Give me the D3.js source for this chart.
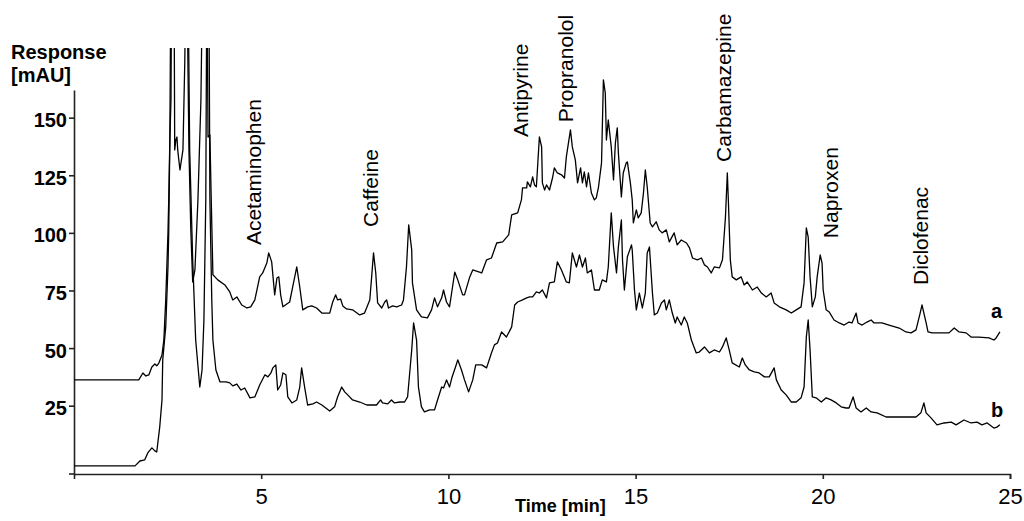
<!DOCTYPE html>
<html><head><meta charset="utf-8">
<script src="https://cdn.jsdelivr.net/npm/d3@7"></script>
<style>body{margin:0;background:#fff}svg{display:block}text{font-family:"Liberation Sans",Arial,sans-serif;fill:#000}</style>
</head><body><svg id="c" width="1024" height="521"></svg>
<script>
// Chromatogram a (upper): [time min, response mAU]
const traceA = [[0,36.2],[1.73,36.2],[1.84,39.2],[1.92,37.9],[2.00,38.4],[2.08,41.8],[2.16,43.1],[2.21,42.3],[2.27,43.6],[2.35,47.0],[2.40,53.5],[2.45,70.9],[2.51,100.0],[2.53,114.3],[2.56,140.3],[2.59,157.7],[2.61,220],[2.67,220],[2.69,136.0],[2.72,140.3],[2.75,141.6],[2.77,136.0],[2.83,127.3],[2.91,136.0],[2.96,175],[2.99,220],[3.01,220],[3.07,136.0],[3.12,101.3],[3.17,78.7],[3.23,83.9],[3.31,114.3],[3.39,157.7],[3.44,220],[3.55,220],[3.58,141.6],[3.63,142.5],[3.66,118.6],[3.71,81.8],[3.84,79.6],[4.03,77.4],[4.16,74.4],[4.24,70.9],[4.35,72.2],[4.48,68.7],[4.62,67.4],[4.72,67.9],[4.83,70.9],[4.96,80.9],[5.04,82.6],[5.15,86.9],[5.20,91.3],[5.28,87.4],[5.36,73.1],[5.42,80.4],[5.47,80.9],[5.52,73.1],[5.58,67.9],[5.76,70.0],[5.84,76.5],[5.95,85.2],[6.03,76.5],[6.11,66.6],[6.24,67.9],[6.35,68.3],[6.48,67.4],[6.62,65.2],[6.83,65.2],[6.91,70.0],[6.99,73.1],[7.04,70.9],[7.12,71.3],[7.18,68.3],[7.28,67.0],[7.44,66.6],[7.63,64.4],[7.76,65.2],[7.90,70.9],[7.95,80.9],[8.00,91.3],[8.06,82.6],[8.11,69.6],[8.22,67.4],[8.30,70.0],[8.35,70.9],[8.40,67.4],[8.51,68.3],[8.62,67.9],[8.75,68.7],[8.80,70.9],[8.88,85.2],[8.94,103.5],[9.02,92.6],[9.04,78.3],[9.15,66.6],[9.28,63.5],[9.44,63.1],[9.55,66.6],[9.63,71.8],[9.71,67.9],[9.82,71.8],[9.87,75.2],[9.95,70.0],[10.03,67.9],[10.11,76.5],[10.17,83.0],[10.25,79.6],[10.38,73.1],[10.43,73.1],[10.57,80.9],[10.65,83.9],[10.89,82.6],[11.02,88.3],[11.15,89.1],[11.29,95.6],[11.45,96.1],[11.61,99.1],[11.69,107.8],[11.85,108.7],[11.95,114.3],[11.98,119.5],[12.09,119.5],[12.11,122.1],[12.19,120.0],[12.25,124.3],[12.30,120.8],[12.35,120.0],[12.43,141.6],[12.49,137.3],[12.51,121.7],[12.57,118.6],[12.62,120.8],[12.70,118.6],[12.78,123.8],[12.83,128.2],[12.91,126.0],[13.02,125.2],[13.10,123.8],[13.15,133.0],[13.26,144.7],[13.31,137.3],[13.39,131.7],[13.45,121.7],[13.53,128.2],[13.58,121.7],[13.63,126.5],[13.69,120.0],[13.74,126.0],[13.82,117.3],[13.90,114.3],[13.95,115.2],[14.01,120.0],[14.09,130.4],[14.14,166.4],[14.19,160.7],[14.22,140.3],[14.27,149.0],[14.35,137.3],[14.41,123.0],[14.46,139.0],[14.51,145.6],[14.54,134.7],[14.62,115.6],[14.67,126.0],[14.75,130.4],[14.78,130.8],[14.86,121.7],[14.91,114.3],[14.94,104.3],[15.02,110.0],[15.07,106.5],[15.15,108.7],[15.21,117.3],[15.26,127.3],[15.31,120.0],[15.39,104.3],[15.45,102.6],[15.55,104.8],[15.63,101.3],[15.71,100.0],[15.82,101.3],[15.90,96.1],[16.03,100.0],[16.11,94.8],[16.22,96.9],[16.36,95.6],[16.44,93.5],[16.52,89.1],[16.65,88.3],[16.76,89.1],[16.84,86.1],[16.92,85.2],[17.02,82.6],[17.10,85.2],[17.24,84.8],[17.32,88.3],[17.40,106.9],[17.45,126.0],[17.48,113.0],[17.53,88.3],[17.58,80.9],[17.69,79.6],[17.82,80.9],[17.90,77.4],[17.98,78.7],[18.12,75.2],[18.25,76.5],[18.36,73.9],[18.49,72.2],[18.62,73.9],[18.70,69.6],[18.84,67.9],[19.02,66.6],[19.16,65.2],[19.29,66.6],[19.42,67.9],[19.50,78.3],[19.56,102.2],[19.61,98.2],[19.66,80.9],[19.72,67.9],[19.80,72.2],[19.85,80.9],[19.93,90.4],[19.98,86.9],[20.01,75.2],[20.09,66.6],[20.17,65.7],[20.30,62.2],[20.44,60.9],[20.57,60.0],[20.70,61.3],[20.78,60.9],[20.89,65.2],[20.94,60.9],[21.05,60.0],[21.18,61.3],[21.29,62.2],[21.37,60.9],[21.58,60.9],[21.77,60.0],[22.04,58.7],[22.22,57.0],[22.36,56.6],[22.49,57.9],[22.60,65.2],[22.65,68.7],[22.70,65.2],[22.76,60.9],[22.81,57.0],[22.92,56.6],[23.19,56.6],[23.37,56.6],[23.51,58.7],[23.64,57.0],[23.83,56.6],[23.96,54.8],[24.17,54.8],[24.44,54.4],[24.57,53.5],[24.63,54.4],[24.73,57.0]];

// Chromatogram b (lower): [time min, response mAU]
const traceB = [[0,-1.1],[1.63,-1.1],[1.76,1.0],[1.89,1.5],[1.97,4.5],[2.08,6.7],[2.16,5.4],[2.21,4.9],[2.29,15.8],[2.35,27.5],[2.37,44.9],[2.45,59.2],[2.51,85.2],[2.53,100.0],[2.56,140.3],[2.59,220],[3.04,220],[3.09,136.0],[3.17,88.3],[3.25,53.5],[3.36,33.1],[3.42,40.5],[3.47,62.2],[3.52,114.3],[3.55,220],[3.60,220],[3.63,114.3],[3.68,70.9],[3.71,53.5],[3.79,40.5],[3.90,35.3],[4.06,35.3],[4.16,34.9],[4.24,33.6],[4.35,34.4],[4.46,31.8],[4.56,32.7],[4.70,28.4],[4.83,28.8],[4.96,34.0],[5.10,38.4],[5.18,37.5],[5.26,39.2],[5.31,41.4],[5.39,42.7],[5.44,31.8],[5.52,34.0],[5.58,39.2],[5.66,38.4],[5.71,28.8],[5.82,26.2],[5.95,27.5],[6.03,33.1],[6.08,41.4],[6.16,33.1],[6.24,25.3],[6.38,25.8],[6.48,26.6],[6.62,25.3],[6.83,22.7],[6.96,24.5],[7.04,28.8],[7.15,33.1],[7.23,31.0],[7.31,29.7],[7.44,27.5],[7.63,26.6],[7.82,25.3],[8.08,25.3],[8.19,27.5],[8.24,26.2],[8.38,25.8],[8.48,27.5],[8.56,26.2],[8.70,26.6],[8.83,26.6],[8.91,28.8],[9.02,49.2],[9.07,60.9],[9.15,53.5],[9.20,33.1],[9.28,24.5],[9.36,22.3],[9.50,23.2],[9.63,23.2],[9.71,27.5],[9.82,33.1],[9.87,32.7],[9.95,36.2],[10.03,33.1],[10.09,37.0],[10.19,41.8],[10.25,44.9],[10.35,40.5],[10.43,36.2],[10.54,31.0],[10.65,36.2],[10.73,42.7],[10.89,42.7],[11.02,41.4],[11.15,47.9],[11.23,51.4],[11.31,52.2],[11.42,57.0],[11.55,54.8],[11.69,59.2],[11.77,68.7],[11.85,70.0],[11.98,70.9],[12.09,71.8],[12.17,72.2],[12.25,72.2],[12.35,74.4],[12.43,73.9],[12.51,75.2],[12.62,71.8],[12.70,78.3],[12.83,78.7],[12.91,87.4],[13.02,83.9],[13.15,78.7],[13.23,78.3],[13.31,91.3],[13.42,85.2],[13.50,90.4],[13.58,85.2],[13.66,89.1],[13.71,82.6],[13.82,83.9],[13.90,75.2],[14.03,75.2],[14.11,79.6],[14.22,78.7],[14.27,85.2],[14.35,108.7],[14.41,93.9],[14.49,82.6],[14.54,93.9],[14.62,105.6],[14.65,88.3],[14.70,75.2],[14.78,89.6],[14.89,94.8],[14.91,92.6],[14.97,75.2],[15.02,66.6],[15.10,73.9],[15.18,67.4],[15.26,73.9],[15.31,91.3],[15.37,93.9],[15.45,73.9],[15.50,64.4],[15.58,65.2],[15.69,69.6],[15.77,70.9],[15.82,66.6],[15.90,70.9],[15.98,65.2],[16.06,60.9],[16.11,63.5],[16.22,60.0],[16.30,63.5],[16.38,60.9],[16.49,53.5],[16.62,47.9],[16.70,48.3],[16.84,50.5],[16.97,47.9],[17.10,49.2],[17.24,48.3],[17.32,50.5],[17.42,54.4],[17.50,49.2],[17.58,43.6],[17.77,41.8],[17.85,45.7],[17.93,42.7],[18.04,40.5],[18.17,39.7],[18.30,39.2],[18.44,37.5],[18.57,37.5],[18.70,41.4],[18.76,36.2],[18.89,31.8],[19.02,29.7],[19.16,26.6],[19.29,26.6],[19.42,28.4],[19.50,33.1],[19.56,54.8],[19.61,62.2],[19.66,49.2],[19.72,28.8],[19.82,28.4],[19.96,26.6],[20.09,28.4],[20.22,27.5],[20.36,26.2],[20.49,24.5],[20.62,24.0],[20.70,24.0],[20.81,28.8],[20.89,24.0],[21.02,22.3],[21.16,24.0],[21.29,22.3],[21.45,21.9],[21.69,20.1],[21.96,20.1],[22.22,20.1],[22.49,20.1],[22.62,21.9],[22.70,26.2],[22.76,21.9],[22.89,19.7],[23.05,16.7],[23.24,17.5],[23.43,17.9],[23.56,16.7],[23.77,18.8],[23.96,17.5],[24.12,17.9],[24.25,16.7],[24.39,17.5],[24.57,15.3],[24.65,15.7],[24.73,16.7]];

const xTicks = [5, 10, 15, 20, 25];
const yTicks = [25, 50, 75, 100, 125, 150];
const peakNames = ["Acetaminophen", "Caffeine", "Antipyrine", "Propranolol", "Carbamazepine", "Naproxen", "Diclofenac"];
const peakTimes = [4.99, 8.12, 12.13, 13.33, 17.55, 20.41, 22.81];
const peakLabelResp = [94.7, 102.6, 141.6, 148.0, 130.8, 97.7, 77.4];
const traceNames = ["a", "b"];
const traceLabelTimes = [24.49, 24.49];
const traceLabelResp = [63.1, 20.1];

const svg = d3.select("#c");
const x = d3.scaleLinear().domain([0, 25]).range([74, 1010]);
const y = d3.scaleLinear().domain([-4.64, 162]).range([474, 90]);

svg.append("defs").append("clipPath").attr("id", "clip")
  .append("rect").attr("x", x(0)).attr("y", 48).attr("width", 1024 - x(0)).attr("height", y(-4.64) - 48);

// axes
const xAxis = svg.append("g").attr("transform", `translate(0,${y(-4.64)})`)
  .call(d3.axisBottom(x).tickValues(xTicks).tickSize(5).tickSizeOuter(5));
xAxis.selectAll("text").attr("y", 30).attr("dy", 0)
  .style("font-size", "22px").style("font-family", '"Liberation Sans", Arial, sans-serif');

const yAxis = svg.append("g").attr("transform", `translate(${x(0)},0)`)
  .call(d3.axisLeft(y).tickValues(yTicks).tickSize(5).tickSizeOuter(0).tickPadding(2));
yAxis.selectAll("text").attr("dy", "0.45em")
  .style("font-size", "20px").style("font-weight", "bold").style("font-family", '"Liberation Sans", Arial, sans-serif');
yAxis.append("line").attr("x1", -5).attr("x2", 0).attr("y1", y(-4.64)).attr("y2", y(-4.64));

svg.selectAll(".domain, .tick line").attr("stroke", "#222").attr("stroke-width", 1.6);
yAxis.selectAll("line").attr("stroke", "#222").attr("stroke-width", 1.6);

// traces
const line = d3.line().x(d => x(d[0])).y(d => y(d[1]));
const g = svg.append("g").attr("clip-path", "url(#clip)");
[traceA, traceB].forEach(tr => {
  g.append("path").datum(tr).attr("d", line)
    .attr("fill", "none").attr("stroke", "#000").attr("stroke-width", 1.3).attr("stroke-linejoin", "round");
});

// peak labels
svg.selectAll(".plabel").data(peakNames).enter().append("text")
  .attr("class", "plabel")
  .attr("transform", (d, i) => `translate(${x(peakTimes[i])},${y(peakLabelResp[i])}) rotate(-90)`)
  .style("font-size", "21px")
  .text(d => d);

// trace labels
svg.selectAll(".tlabel").data(traceNames).enter().append("text")
  .attr("class", "tlabel")
  .attr("x", (d, i) => x(traceLabelTimes[i]))
  .attr("y", (d, i) => y(traceLabelResp[i]))
  .style("font-size", "20px").style("font-weight", "bold")
  .text(d => d);

// axis titles
svg.append("text").attr("x", 11).attr("y", 59).style("font-size", "20px").style("font-weight", "bold").text("Response");
svg.append("text").attr("x", 11).attr("y", 82).style("font-size", "20px").style("font-weight", "bold").text("[mAU]");
svg.append("text").attr("x", 515).attr("y", 512).style("font-size", "18px").style("font-weight", "bold").text("Time [min]");
</script></body></html>
